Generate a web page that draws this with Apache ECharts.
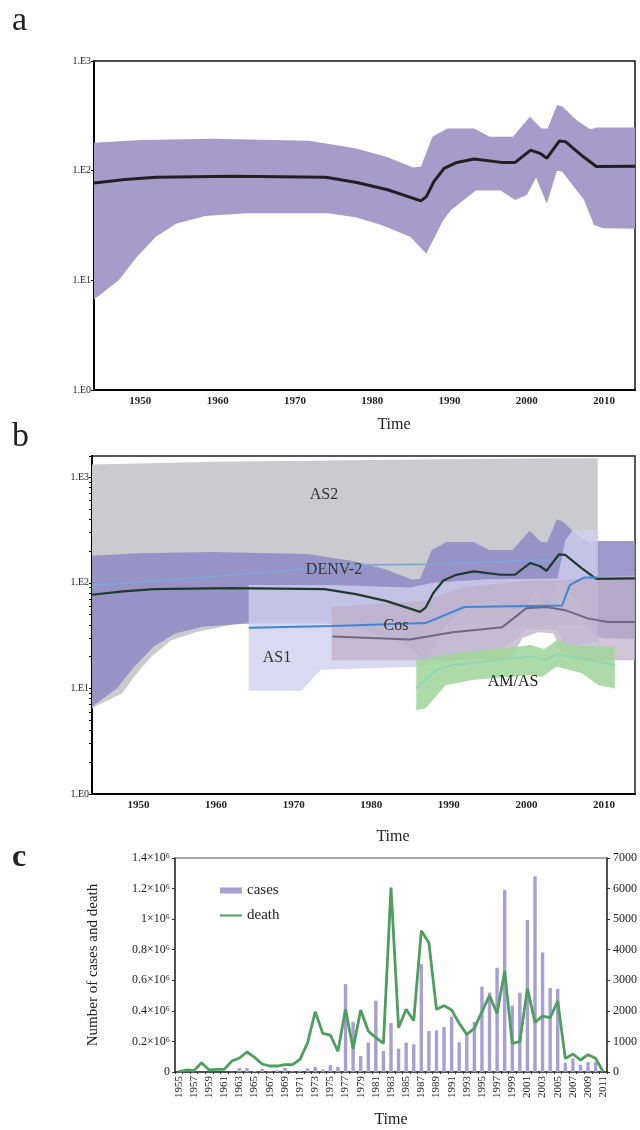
<!DOCTYPE html>
<html>
<head>
<meta charset="utf-8">
<script src="https://cdn.jsdelivr.net/npm/echarts@6/dist/echarts.min.js"></script>
<style>
  html, body { margin: 0; padding: 0; background: #fff; }
  #chart { width: 640px; height: 1130px; }
</style>
</head>
<body>
<div id="chart"></div>
<script>
// ---- panel a / DENV-2 skyline (year, effective population size) ----
const denvMedian = [[1944,77],[1948,83],[1952,87],[1962,89],[1974,87],[1978,78],[1982,67],[1986.3,53],[1987,58],[1988,80],[1989.3,105],[1990.8,118],[1993.2,128],[1996.7,119],[1998.5,119],[2000.5,154],[2001.7,144],[2002.6,130],[2004.2,186],[2005,184],[2007.2,136],[2009,109],[2014,110]]
const denvUpper = [[1944,180],[1950,190],[1959.4,195],[1971.8,187],[1977.8,160],[1981.8,134],[1985.3,107],[1986.3,109],[1987.8,204],[1989.7,243],[1993.2,243],[1995.2,204],[1998.2,204],[2000.4,310],[2001.9,243],[2002.7,243],[2003.9,396],[2004.6,385],[2006.4,289],[2008.2,238],[2009.1,248],[2014,248]]
const denvLower = [[1944,6.7],[1947.2,10],[1949.4,15.9],[1952,25],[1954.7,33],[1958.4,38.6],[1963.7,41],[1974.3,41],[1978,37.5],[1981.2,31.9],[1984.9,25],[1987,17.6],[1989.2,35.5],[1990.2,43.7],[1993.4,66],[1996.6,66],[1998.5,54],[2000,60],[2001.2,86],[2002.6,50],[2003.9,100],[2004.6,98],[2007.4,54],[2008.7,32],[2009.9,29.8],[2014,29.5]]

// ---- panel b genotypes ----
const as2Upper = [[1944,1320],[1960,1400],[1980,1450],[2000,1500],[2009.2,1510]]
const as2Lower = [[1944,6.5],[1947.9,9],[1949.4,12.8],[1951.6,19.8],[1954.2,28.6],[1957.4,34],[1963.8,42.7],[1975,43],[1985,40],[1995,40],[2000,38],[2005,40],[2009.2,40]]
const as2Median = [[1944,94],[1960,115],[1978,147],[1988,150],[2004.6,167]]

const as1Upper = [[1964.2,95],[1975,95],[1985,90],[1988,100],[1995,108],[2004,110],[2005,250],[2006,320],[2009.2,315]]
const as1Lower = [[1964.2,9.5],[1971,9.5],[1973.5,15],[1986,16],[1995,20],[1999,30],[2000,36],[2004,36],[2005,25],[2009.2,28]]
const as1Median = [[1964.2,37.4],[1975,39],[1987,41.5],[1992,59],[2004.6,61],[2005.6,95],[2007.4,112],[2009.2,112]]

const cosUpper = [[1974.9,59],[1987.1,68],[1991.9,91],[2000.6,105],[2004,105],[2009.3,114],[2014,118]]
const cosLower = [[1974.9,18.5],[1990,18.5],[1998,19],[1999.5,30],[2001.5,34],[2003.5,33],[2004.5,22],[2006,18.5],[2014,18.5]]
const cosMedian = [[1975,31],[1985,29],[1990.5,34],[1996.9,38],[2000,57.5],[2002.6,59],[2005,55],[2007.9,46],[2010.5,42.6],[2014,42.6]]

const amUpper = [[1985.8,18.5],[1990.5,21.5],[1998.5,24.7],[2000.5,25.7],[2002.3,23.6],[2003.9,28.6],[2005.8,25.7],[2011.4,24.7]]
const amLower = [[1985.8,6.2],[1987,6.5],[1989.6,10.7],[1993,12],[2000.5,13.4],[2002,12.8],[2003.9,16],[2007.1,14],[2009.3,10.7],[2011.4,10]]
const amMedian = [[1985.8,10],[1988.4,15],[1990.5,16.6],[1998.5,19.4],[2000.5,20],[2002.4,18.6],[2004,21],[2005.9,20],[2011.4,16.6]]

// ---- panel c: cases and deaths per year ----
const years = []
for (let y = 1955; y <= 2011; y++) years.push(String(y))
const cases = [0,0,0,0,0,0,0,0,26000,26000,6500,20000,4000,11000,28000,4000,9000,24000,33000,17000,44000,35000,575000,329000,105000,192000,467000,137000,320000,153000,192000,181000,706000,268000,272000,294000,362000,194000,242000,327000,558000,519000,682000,1190000,435000,519000,995000,1280000,782000,549000,545000,61000,89000,46000,65000,65000,0]
const deaths = [10,65,44,305,65,87,87,360,458,654,480,262,196,196,240,240,414,960,1970,1264,1210,676,2050,763,2027,1341,1123,937,6030,1450,2050,1679,4622,4229,2050,2170,2027,1591,1232,1428,1973,2496,1918,3303,937,992,2736,1624,1831,1777,2322,436,589,392,567,447,0]

const FONT = 'Liberation Serif'

const bandSeries = (upper, lower, color, opacity, gi) => ({
  type: 'custom',
  xAxisIndex: gi,
  yAxisIndex: gi,
  silent: true,
  data: [upper[0]],
  renderItem: (params, api) => {
    const pts = upper.map(p => api.coord(p))
      .concat(lower.slice().reverse().map(p => api.coord(p)))
    return { type: 'polygon', shape: { points: pts }, style: { fill: color, opacity: opacity } }
  }
})

const lineSeries = (data, color, width, gi, opacity) => ({
  type: 'line',
  xAxisIndex: gi,
  yAxisIndex: gi,
  data: data,
  showSymbol: false,
  silent: true,
  lineStyle: { color: color, width: width, opacity: opacity === undefined ? 1 : opacity }
})

const logLabel = v => {
  const e = Math.log10(v)
  if (Math.abs(e - Math.round(e)) > 1e-6) return ''
  return '1.E' + Math.round(e)
}

const yearAxis = (gi) => ({
  type: 'value',
  gridIndex: gi,
  min: 1944,
  max: 2014,
  interval: 1,
  splitLine: { show: false },
  axisTick: { show: false },
  axisLine: { lineStyle: { color: '#000', width: 2 } },
  axisLabel: {
    formatter: v => (v % 10 === 0 ? String(v) : ''),
    fontFamily: FONT, fontSize: 11, fontWeight: 'bold', color: '#222', margin: 6
  }
})

const logAxis = (gi, max, minor) => ({
  type: 'log',
  logBase: 10,
  gridIndex: gi,
  min: 1,
  max: max,
  splitLine: { show: false },
  axisLine: { lineStyle: { color: '#000', width: 2 } },
  axisTick: { show: true, length: 3, lineStyle: { color: '#000' } },
  minorTick: { show: minor, splitNumber: 9, length: 3, lineStyle: { color: '#000' } },
  axisLabel: { formatter: logLabel, fontFamily: FONT, fontSize: 10, color: '#222', margin: 3, showMaxLabel: true }
})

const caseLabel = v => {
  if (v === 0) return '0'
  const m = Math.round(v / 1e5) / 10
  return m + '×10⁶'
}

const chart = echarts.init(document.getElementById('chart'))

const option = {
  animation: false,
  backgroundColor: '#fff',
  grid: [
    { left: 94, top: 61, width: 541, height: 329, show: true, borderColor: '#111', borderWidth: 1.5 },
    { left: 92, top: 456, width: 543, height: 338, show: true, borderColor: '#222', borderWidth: 1.5 },
    { left: 175, top: 858, width: 433, height: 214, show: true, borderColor: '#555', borderWidth: 1 }
  ],
  xAxis: [
    yearAxis(0),
    yearAxis(1),
    {
      type: 'category',
      gridIndex: 2,
      data: years,
      axisLine: { lineStyle: { color: '#333', width: 1.5 } },
      axisTick: { show: true, interval: 0, length: 2, lineStyle: { color: '#333' } },
      axisLabel: { rotate: 90, interval: 1, fontFamily: FONT, fontSize: 11, color: '#222', margin: 4 }
    }
  ],
  yAxis: [
    logAxis(0, 1000, false),
    logAxis(1, 1585, true),
    {
      type: 'value',
      gridIndex: 2,
      min: 0,
      max: 1400000,
      interval: 200000,
      splitLine: { show: false },
      axisLine: { show: true, lineStyle: { color: '#333', width: 1.5 } },
      axisTick: { show: true, length: 3, lineStyle: { color: '#333' } },
      axisLabel: { formatter: caseLabel, fontFamily: FONT, fontSize: 12, color: '#222', margin: 5 },
      name: 'Number of cases and death',
      nameLocation: 'middle',
      nameGap: 74,
      nameTextStyle: { fontFamily: FONT, fontSize: 15, color: '#222' }
    },
    {
      type: 'value',
      gridIndex: 2,
      position: 'right',
      min: 0,
      max: 7000,
      interval: 1000,
      splitLine: { show: false },
      axisLine: { show: true, lineStyle: { color: '#333', width: 1.5 } },
      axisTick: { show: true, length: 3, lineStyle: { color: '#333' } },
      axisLabel: { formatter: v => String(v), fontFamily: FONT, fontSize: 12, color: '#222', margin: 6 }
    }
  ],
  legend: {
    data: [
      { name: 'cases', icon: 'rect' },
      { name: 'death', itemStyle: { opacity: 0 } }
    ],
    orient: 'vertical',
    left: 214,
    top: 878,
    itemWidth: 22,
    itemHeight: 6,
    itemGap: 10,
    textStyle: { fontFamily: FONT, fontSize: 15, color: '#222' }
  },
  series: [
    // panel a
    bandSeries(denvUpper, denvLower, '#a59cca', 1, 0),
    lineSeries(denvMedian, '#231f20', 3, 0),
    // panel b
    bandSeries(as2Upper, as2Lower, '#cbcbcf', 1, 1),
    bandSeries(denvUpper, denvLower, '#8f8bc5', 0.88, 1),
    lineSeries(as2Median, '#7fa3d8', 2, 1, 0.9),
    lineSeries(denvMedian, '#1e3a2f', 2.2, 1),
    bandSeries(as1Upper, as1Lower, '#cfd0ee', 0.8, 1),
    lineSeries(as1Median, '#3f86d6', 2, 1),
    bandSeries(cosUpper, cosLower, '#bcaec6', 0.72, 1),
    lineSeries(cosMedian, '#6d6884', 2, 1),
    bandSeries(amUpper, amLower, '#a2d69b', 0.88, 1),
    lineSeries(amMedian, '#8fd4b4', 1.6, 1),
    // panel c
    {
      name: 'cases',
      type: 'bar',
      xAxisIndex: 2,
      yAxisIndex: 2,
      data: cases,
      barWidth: '45%',
      itemStyle: { color: '#a79fd6' }
    },
    {
      name: 'death',
      type: 'line',
      xAxisIndex: 2,
      yAxisIndex: 3,
      data: deaths,
      symbol: 'none',
      lineStyle: { color: '#4e9e5e', width: 2.8 },
      itemStyle: { color: '#4e9e5e' }
    }
  ],
  graphic: [
    { type: 'text', left: 12, top: 4, style: { text: 'a', font: '34px "Liberation Serif"', fill: '#222' } },
    { type: 'text', left: 12, top: 420, style: { text: 'b', font: '34px "Liberation Serif"', fill: '#222' } },
    { type: 'text', left: 12, top: 842, style: { text: 'c', font: 'bold 32px "Liberation Serif"', fill: '#222' } },
    { type: 'text', x: 394, y: 425, style: { text: 'Time', font: '16px "Liberation Serif"', fill: '#222', align: 'center', verticalAlign: 'middle' } },
    { type: 'text', x: 393, y: 837, style: { text: 'Time', font: '16px "Liberation Serif"', fill: '#222', align: 'center', verticalAlign: 'middle' } },
    { type: 'text', x: 391, y: 1120, style: { text: 'Time', font: '16px "Liberation Serif"', fill: '#222', align: 'center', verticalAlign: 'middle' } },
    { type: 'text', x: 324, y: 495, z: 100, style: { text: 'AS2', font: '16px "Liberation Serif"', fill: '#333', align: 'center', verticalAlign: 'middle' } },
    { type: 'text', x: 334, y: 570, z: 100, style: { text: 'DENV-2', font: '16px "Liberation Serif"', fill: '#333', align: 'center', verticalAlign: 'middle' } },
    { type: 'text', x: 396, y: 626, z: 100, style: { text: 'Cos', font: '16px "Liberation Serif"', fill: '#333', align: 'center', verticalAlign: 'middle' } },
    { type: 'text', x: 277, y: 658, z: 100, style: { text: 'AS1', font: '16px "Liberation Serif"', fill: '#333', align: 'center', verticalAlign: 'middle' } },
    { type: 'text', x: 513, y: 682, z: 100, style: { text: 'AM/AS', font: '16px "Liberation Serif"', fill: '#222', align: 'center', verticalAlign: 'middle' } }
  ]
}

chart.setOption(option)
</script>
</body>
</html>
